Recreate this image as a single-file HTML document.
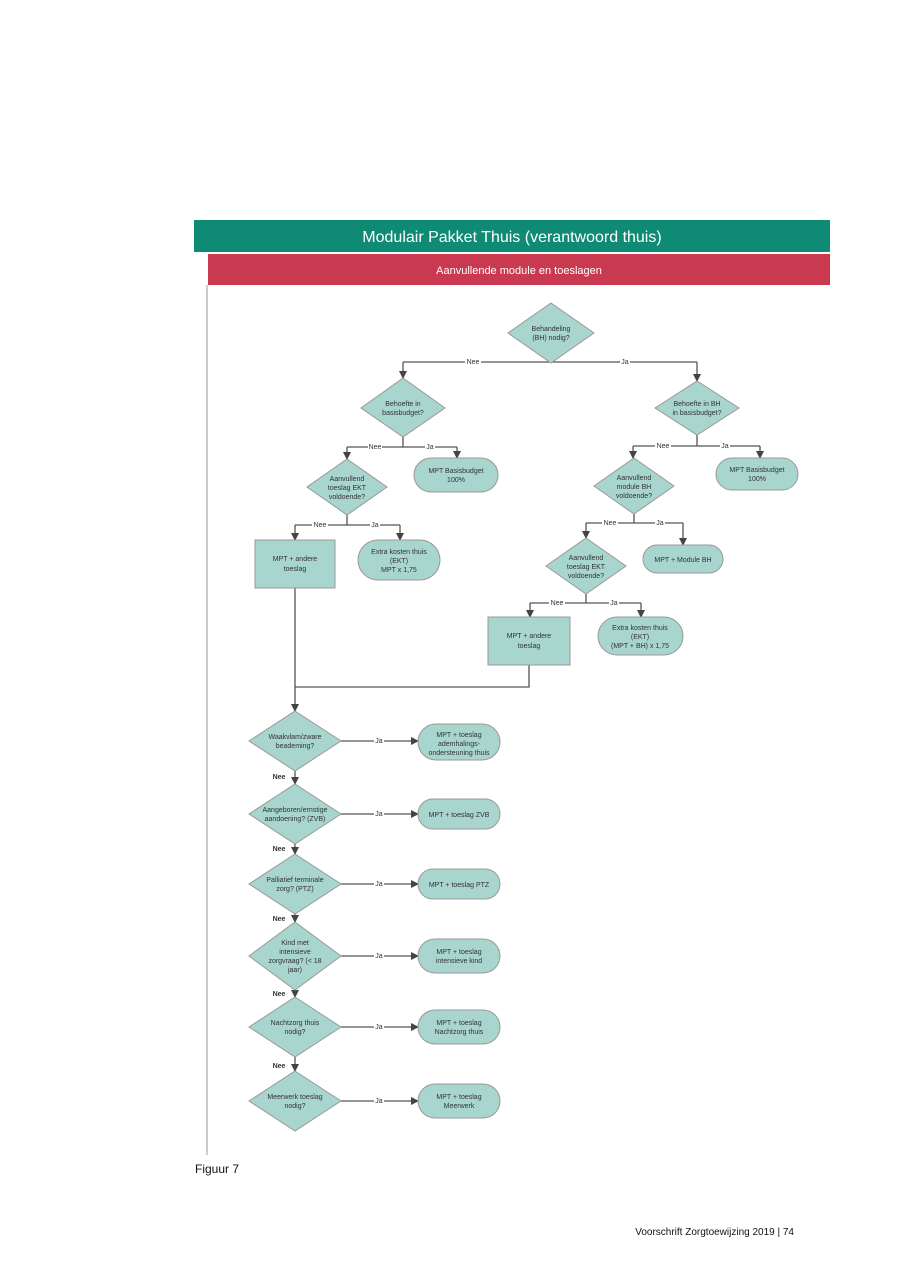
<!DOCTYPE html>
<html><head><meta charset="utf-8"><style>
html,body{margin:0;padding:0;background:#fff;width:900px;height:1273px;overflow:hidden}
svg{display:block}
text{font-family:"Liberation Sans",sans-serif}
</style></head><body>
<svg width="900" height="1273" viewBox="0 0 900 1273" xmlns="http://www.w3.org/2000/svg">
<defs>
<marker id="a" markerWidth="8" markerHeight="8" refX="7" refY="4" orient="auto" markerUnits="userSpaceOnUse"><path d="M0,0 L8,4 L0,8 z" fill="#444"/></marker>
</defs>
<rect x="194" y="220" width="636" height="32" fill="#0f8a74"/>
<text x="512" y="242" font-size="16" fill="#fff" text-anchor="middle">Modulair Pakket Thuis (verantwoord thuis)</text>
<rect x="208" y="254" width="622" height="31" fill="#c93a50"/>
<text x="519" y="274" font-size="11" fill="#fff" text-anchor="middle">Aanvullende module en toeslagen</text>
<rect x="206" y="285" width="2" height="870" fill="#ccc"/>

<g stroke="#555" stroke-width="1.3" fill="none">
<path d="M551,363 V362 M403,362 H697"/>
<path d="M403,362 V378" marker-end="url(#a)"/><path d="M697,362 V381" marker-end="url(#a)"/>
<path d="M403,437 V447 M347,447 H457"/>
<path d="M347,447 V459" marker-end="url(#a)"/><path d="M457,447 V458" marker-end="url(#a)"/>
<path d="M697,435 V446 M633,446 H760"/>
<path d="M633,446 V458" marker-end="url(#a)"/><path d="M760,446 V458" marker-end="url(#a)"/>
<path d="M347,515 V525 M295,525 H400"/>
<path d="M295,525 V540" marker-end="url(#a)"/><path d="M400,525 V540" marker-end="url(#a)"/>
<path d="M634,514 V523 M586,523 H683"/>
<path d="M586,523 V538" marker-end="url(#a)"/><path d="M683,523 V545" marker-end="url(#a)"/>
<path d="M586,594 V603 M530,603 H641"/>
<path d="M530,603 V617" marker-end="url(#a)"/><path d="M641,603 V617" marker-end="url(#a)"/>
<path d="M295,588 V711" marker-end="url(#a)"/>
<path d="M295,687 H529 V665"/>
<path d="M295,771 V784" marker-end="url(#a)"/>
<path d="M295,844 V854" marker-end="url(#a)"/>
<path d="M295,914 V922" marker-end="url(#a)"/>
<path d="M295,990 V997" marker-end="url(#a)"/>
<path d="M295,1057 V1071" marker-end="url(#a)"/>
<path d="M341,741 H418" marker-end="url(#a)"/>
<path d="M341,814 H418" marker-end="url(#a)"/>
<path d="M341,884 H418" marker-end="url(#a)"/>
<path d="M341,956 H418" marker-end="url(#a)"/>
<path d="M341,1027 H418" marker-end="url(#a)"/>
<path d="M341,1101 H418" marker-end="url(#a)"/>
</g>

<g fill="#a8d5ce" stroke="#999" stroke-width="1">
<path d="M551,303 L594,333 L551,363 L508,333 z"/>
<path d="M403,378 L445,408 L403,437 L361,408 z"/>
<path d="M697,381 L739,408 L697,435 L655,408 z"/>
<path d="M347,459 L387,487 L347,515 L307,487 z"/>
<path d="M634,458 L674,486 L634,514 L594,486 z"/>
<path d="M586,538 L626,566 L586,594 L546,566 z"/>
<rect x="414" y="458" width="84" height="34" rx="17"/>
<rect x="716" y="458" width="82" height="32" rx="16"/>
<rect x="255" y="540" width="80" height="48"/>
<rect x="358" y="540" width="82" height="40" rx="20"/>
<rect x="643" y="545" width="80" height="28" rx="14"/>
<rect x="488" y="617" width="82" height="48"/>
<rect x="598" y="617" width="85" height="38" rx="19"/>
<path d="M295,711 L341,741 L295,771 L249,741 z"/>
<path d="M295,784 L341,814 L295,844 L249,814 z"/>
<path d="M295,854 L341,884 L295,914 L249,884 z"/>
<path d="M295,922 L341,956 L295,990 L249,956 z"/>
<path d="M295,997 L341,1027 L295,1057 L249,1027 z"/>
<path d="M295,1071 L341,1101 L295,1131 L249,1101 z"/>
<rect x="418" y="724" width="82" height="36" rx="18"/>
<rect x="418" y="799" width="82" height="30" rx="15"/>
<rect x="418" y="869" width="82" height="30" rx="15"/>
<rect x="418" y="939" width="82" height="34" rx="17"/>
<rect x="418" y="1010" width="82" height="34" rx="17"/>
<rect x="418" y="1084" width="82" height="34" rx="17"/>
</g>

<g font-size="7" fill="#333" text-anchor="middle">
<text x="551" y="331">Behandeling</text><text x="551" y="340">(BH) nodig?</text>
<text x="403" y="406">Behoefte in</text><text x="403" y="415">basisbudget?</text>
<text x="697" y="406">Behoefte in BH</text><text x="697" y="415">in basisbudget?</text>
<text x="347" y="481">Aanvullend</text><text x="347" y="490">toeslag EKT</text><text x="347" y="499">voldoende?</text>
<text x="634" y="480">Aanvullend</text><text x="634" y="489">module BH</text><text x="634" y="498">voldoende?</text>
<text x="586" y="560">Aanvullend</text><text x="586" y="569">toeslag EKT</text><text x="586" y="578">voldoende?</text>
<text x="456" y="473">MPT Basisbudget</text><text x="456" y="482">100%</text>
<text x="757" y="472">MPT Basisbudget</text><text x="757" y="481">100%</text>
<text x="295" y="561">MPT + andere</text><text x="295" y="571">toeslag</text>
<text x="399" y="554">Extra kosten thuis</text><text x="399" y="563">(EKT)</text><text x="399" y="572">MPT x 1,75</text>
<text x="683" y="562">MPT + Module BH</text>
<text x="529" y="638">MPT + andere</text><text x="529" y="648">toeslag</text>
<text x="640" y="630">Extra kosten thuis</text><text x="640" y="639">(EKT)</text><text x="640" y="648">(MPT + BH) x 1,75</text>
<text x="295" y="739">Waakvlam/zware</text><text x="295" y="748">beademing?</text>
<text x="295" y="812">Aangeboren/ernstige</text><text x="295" y="821">aandoening? (ZVB)</text>
<text x="295" y="882">Palliatief terminale</text><text x="295" y="891">zorg? (PTZ)</text>
<text x="295" y="945">Kind met</text><text x="295" y="954">intensieve</text><text x="295" y="963">zorgvraag? (&lt; 18</text><text x="295" y="972">jaar)</text>
<text x="295" y="1025">Nachtzorg thuis</text><text x="295" y="1034">nodig?</text>
<text x="295" y="1099">Meerwerk toeslag</text><text x="295" y="1108">nodig?</text>
<text x="459" y="737">MPT + toeslag</text><text x="459" y="746">ademhalings-</text><text x="459" y="755">ondersteuning thuis</text>
<text x="459" y="817">MPT + toeslag ZVB</text>
<text x="459" y="887">MPT + toeslag PTZ</text>
<text x="459" y="954">MPT + toeslag</text><text x="459" y="963">intensieve kind</text>
<text x="459" y="1025">MPT + toeslag</text><text x="459" y="1034">Nachtzorg thuis</text>
<text x="459" y="1099">MPT + toeslag</text><text x="459" y="1108">Meerwerk</text>
</g>
<g font-size="7" fill="#333" text-anchor="middle">
<rect x="465" y="357" width="16" height="9" fill="#fff"/><text x="473" y="364">Nee</text>
<rect x="620" y="357" width="10" height="9" fill="#fff"/><text x="625" y="364">Ja</text>
<rect x="368" y="442" width="14" height="9" fill="#fff"/><text x="375" y="449">Nee</text>
<rect x="425" y="442" width="10" height="9" fill="#fff"/><text x="430" y="449">Ja</text>
<rect x="655" y="441" width="16" height="9" fill="#fff"/><text x="663" y="448">Nee</text>
<rect x="720" y="441" width="10" height="9" fill="#fff"/><text x="725" y="448">Ja</text>
<rect x="312" y="520" width="16" height="9" fill="#fff"/><text x="320" y="527">Nee</text>
<rect x="370" y="520" width="10" height="9" fill="#fff"/><text x="375" y="527">Ja</text>
<rect x="602" y="518" width="16" height="9" fill="#fff"/><text x="610" y="525">Nee</text>
<rect x="655" y="518" width="10" height="9" fill="#fff"/><text x="660" y="525">Ja</text>
<rect x="549" y="598" width="16" height="9" fill="#fff"/><text x="557" y="605">Nee</text>
<rect x="609" y="598" width="10" height="9" fill="#fff"/><text x="614" y="605">Ja</text>
<rect x="374" y="736" width="10" height="9" fill="#fff"/><text x="379" y="743">Ja</text>
<rect x="374" y="809" width="10" height="9" fill="#fff"/><text x="379" y="816">Ja</text>
<rect x="374" y="879" width="10" height="9" fill="#fff"/><text x="379" y="886">Ja</text>
<rect x="374" y="951" width="10" height="9" fill="#fff"/><text x="379" y="958">Ja</text>
<rect x="374" y="1022" width="10" height="9" fill="#fff"/><text x="379" y="1029">Ja</text>
<rect x="374" y="1096" width="10" height="9" fill="#fff"/><text x="379" y="1103">Ja</text>
<text x="279" y="779" font-weight="bold">Nee</text>
<text x="279" y="851" font-weight="bold">Nee</text>
<text x="279" y="921" font-weight="bold">Nee</text>
<text x="279" y="996" font-weight="bold">Nee</text>
<text x="279" y="1068" font-weight="bold">Nee</text>
</g>
<text x="195" y="1173" font-size="12" fill="#111">Figuur 7</text>
<text x="794" y="1235" font-size="10" fill="#111" text-anchor="end">Voorschrift Zorgtoewijzing 2019 | 74</text>
</svg>
</body></html>
